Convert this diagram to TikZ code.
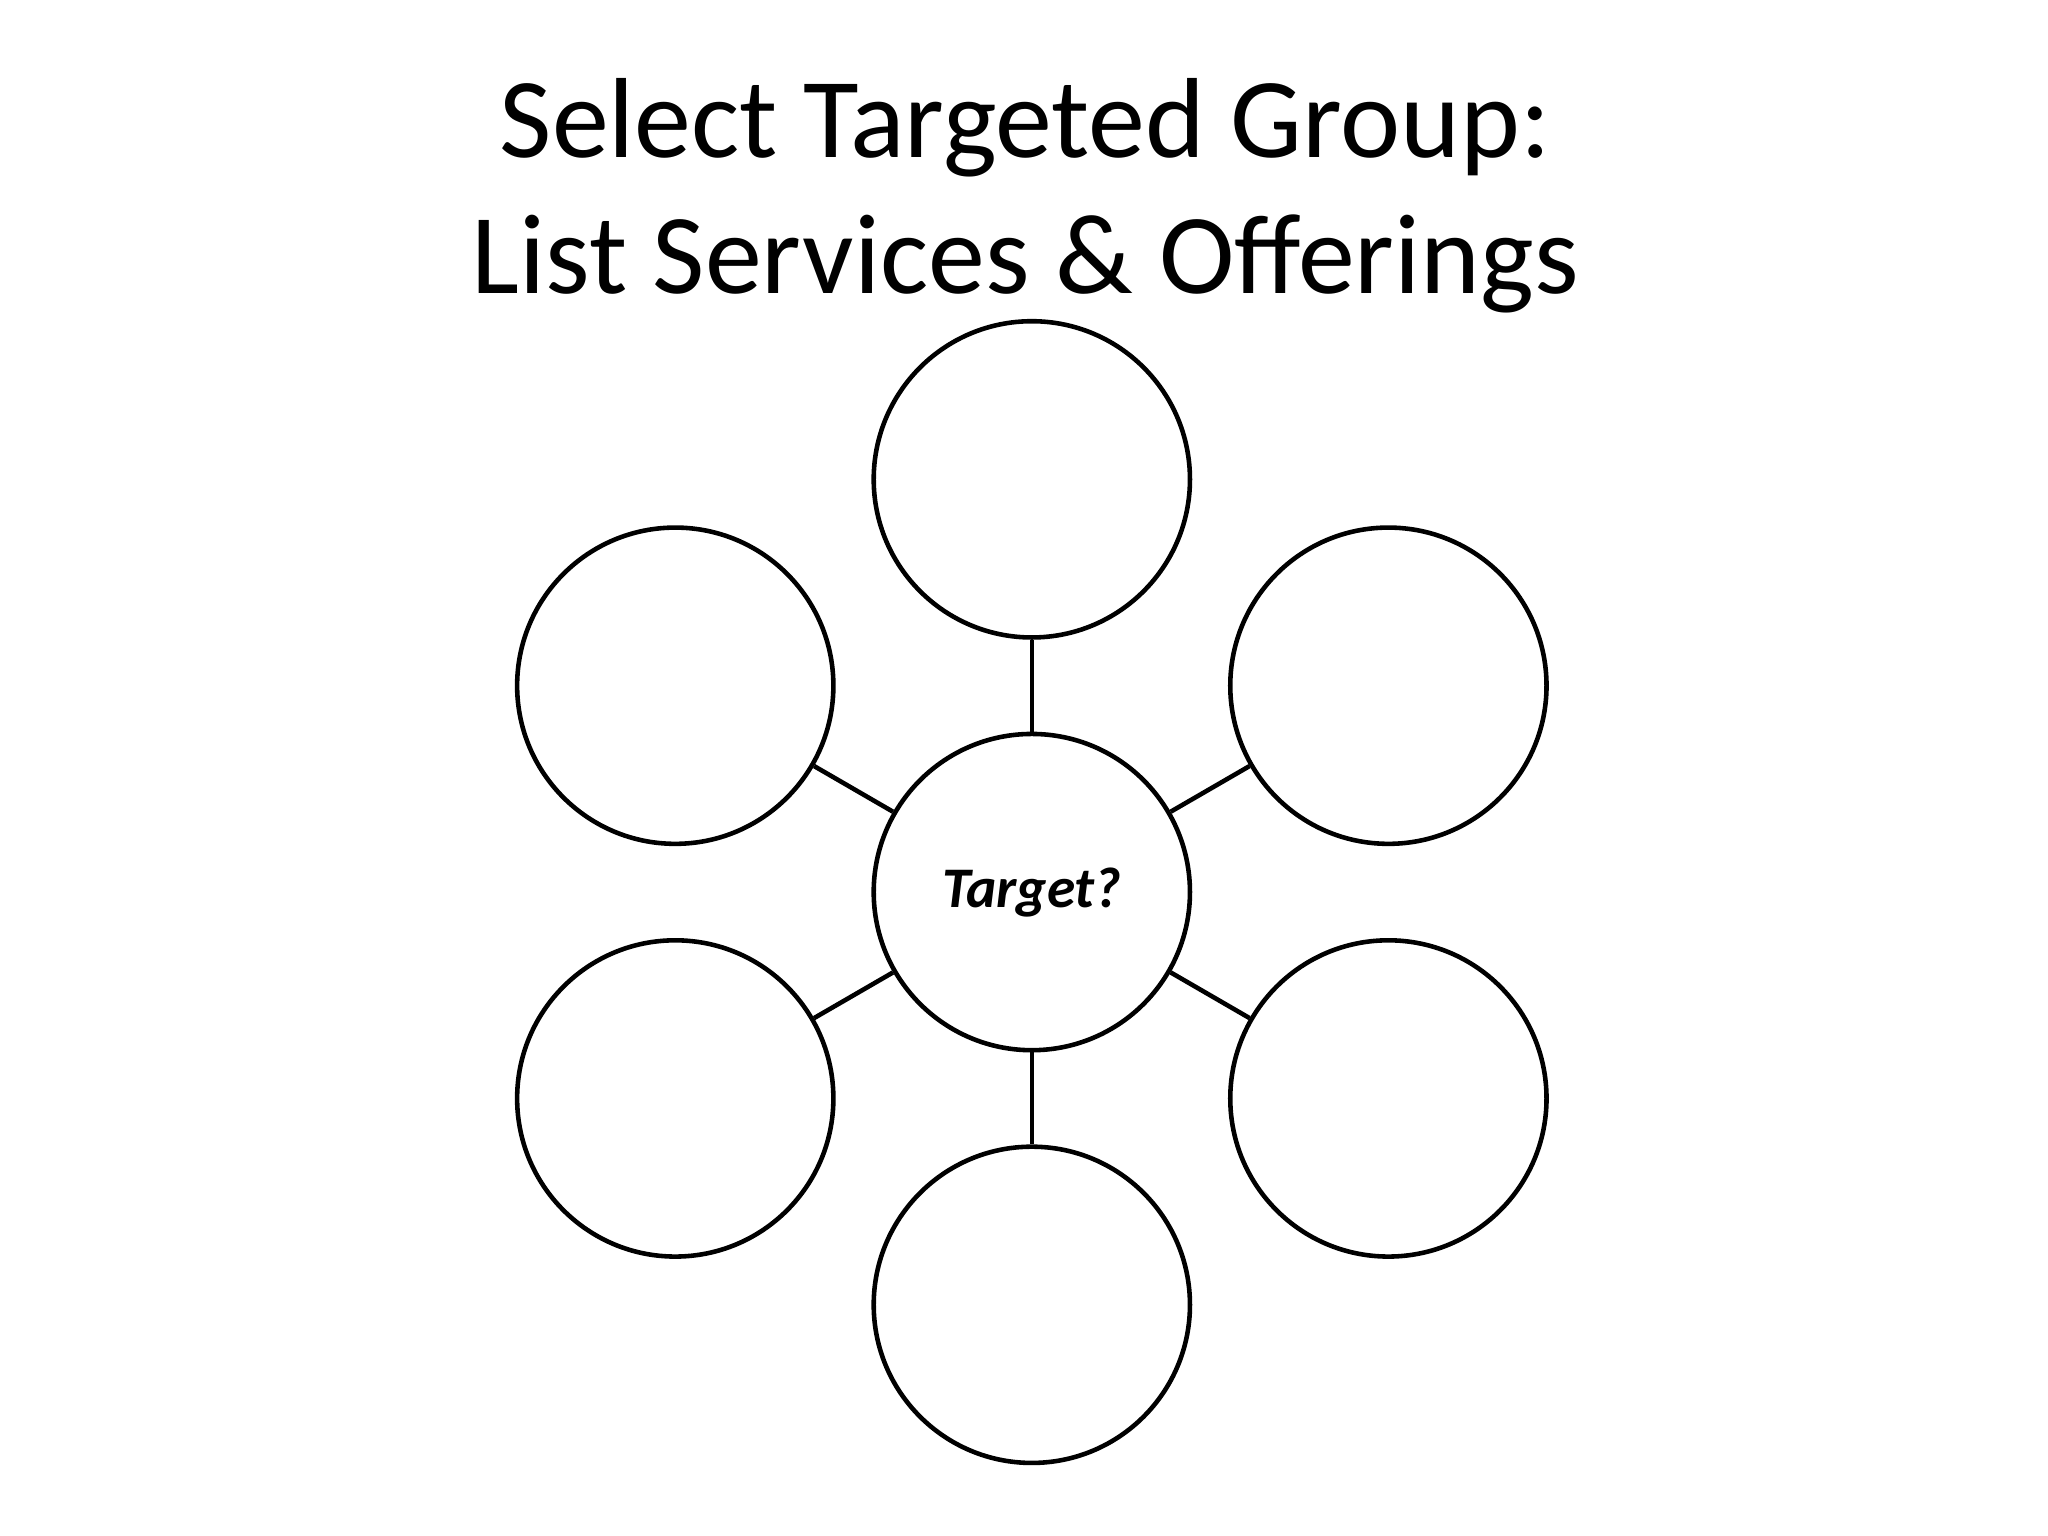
\documentclass[tikz,border=0pt]{standalone}
\usepackage{fontspec}
\setmainfont{Carlito}
\begin{document}
\begin{tikzpicture}[x=0.01cm,y=-0.01cm,
  bub/.style={circle,draw,line width=0.035cm,minimum size=2.42cm,inner sep=0pt},
  link/.style={line width=0.035cm}]
\useasboundingbox (0,0) rectangle (1568,1176);
\node[align=center,font=\fontsize{24.8pt}{29.5pt}\selectfont] (title) at (785,150) {Select Targeted Group:\\List Services \& Offerings};
\node[bub,font=\fontsize{12.5pt}{15pt}\selectfont\bfseries\itshape] (c) at (790,683) {Target?};
\node[bub] (t) at (790,367) {};
\node[bub] (ul) at (517,525) {};
\node[bub] (ur) at (1063,525) {};
\node[bub] (ll) at (517,841) {};
\node[bub] (lr) at (1063,841) {};
\node[bub] (b) at (790,999) {};
\foreach \n in {t,ul,ur,ll,lr,b} \draw[link] (c) -- (\n);
\end{tikzpicture}
\end{document}
